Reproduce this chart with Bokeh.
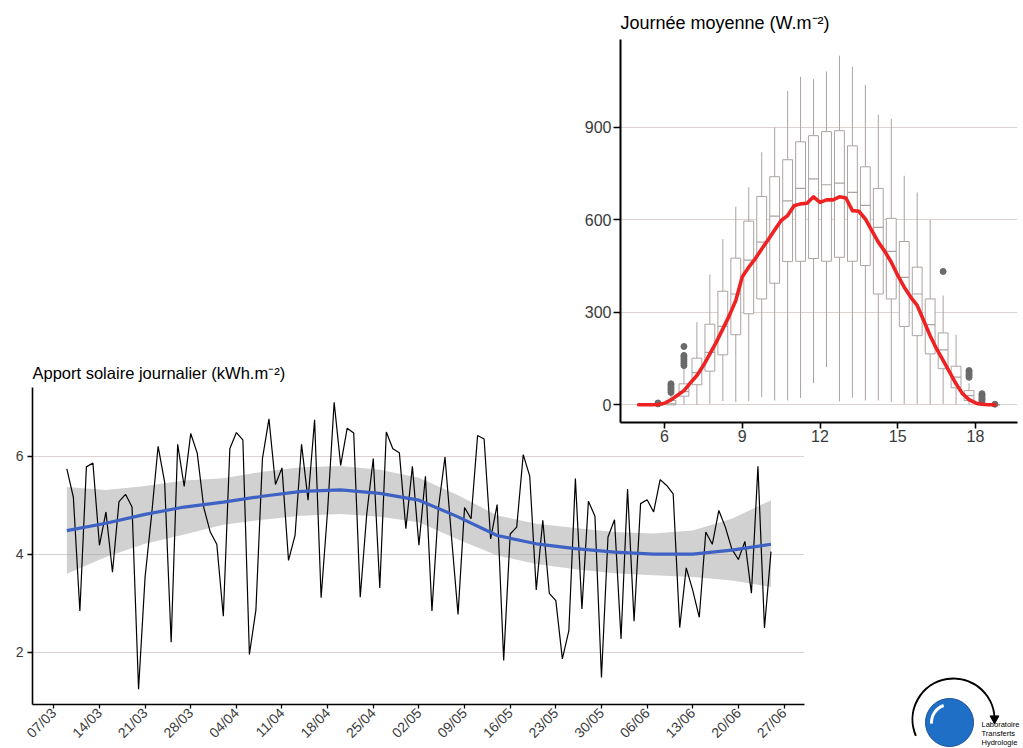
import numpy as np
import pandas as pd
from bokeh.plotting import figure
from bokeh.models import Range1d, FixedTicker, DatetimeTickFormatter, ColumnDataSource
from bokeh.layouts import column, row
from bokeh.embed import file_html
from bokeh.resources import INLINE
from bokeh.core.properties import value

FONT = "Liberation Sans"
TICK_COLOR = "#3a3a3a"
GRID_COLOR = "#d9d2ce"
BOX_COLOR = "#aba3a1"

# ---------------- daily solar input (kWh.m-2) ----------------
first_day = "2015-03-09"
daily_kwh = [
    5.74, 5.16, 2.84, 5.78, 5.86, 4.18, 4.86, 3.63, 5.07, 5.22,
    4.96, 1.24, 3.53, 4.80, 6.20, 5.47, 2.20, 6.24, 5.38, 6.46,
    6.06, 4.95, 4.45, 4.20, 2.73, 6.15, 6.48, 6.33, 1.95, 2.86,
    5.95, 6.76, 5.42, 5.76, 3.87, 4.38, 6.24, 5.10, 6.74, 3.11,
    4.90, 7.10, 5.81, 6.57, 6.47, 3.12, 4.82, 5.95, 3.31, 6.49,
    6.15, 6.07, 4.52, 5.79, 4.18, 5.59, 2.84, 4.95, 5.98, 4.35,
    2.77, 4.95, 4.72, 6.42, 6.35, 4.31, 5.01, 1.83, 4.41, 4.55,
    6.03, 5.59, 3.27, 4.69, 3.20, 3.05, 1.86, 2.44, 5.54, 2.88,
    5.08, 4.77, 1.48, 4.35, 4.70, 2.27, 5.33, 2.63, 5.03, 5.11,
    4.86, 5.52, 5.40, 5.23, 2.50, 3.72, 3.26, 2.71, 4.45, 4.20,
    4.89, 4.55, 4.10, 3.89, 4.26, 3.20, 5.79, 2.49, 4.05,
]
# loess smooth (fit and confidence band) read at some days
smooth_day_index = [0, 6, 12, 18, 24, 30, 36, 42, 48, 54, 60, 66, 72, 78, 84, 90, 96, 102, 108]
smooth_fit = [4.48, 4.63, 4.81, 4.96, 5.06, 5.18, 5.28, 5.31, 5.24, 5.10,
              4.76, 4.38, 4.21, 4.11, 4.04, 4.00, 4.00, 4.08, 4.20]
smooth_low = [3.60, 3.94, 4.21, 4.40, 4.60, 4.70, 4.78, 4.82, 4.76, 4.65,
              4.30, 3.97, 3.80, 3.69, 3.61, 3.57, 3.53, 3.46, 3.33]
smooth_high = [5.37, 5.31, 5.39, 5.50, 5.55, 5.68, 5.77, 5.80, 5.72, 5.56,
               5.20, 4.79, 4.62, 4.53, 4.45, 4.42, 4.48, 4.72, 5.10]
date_tick_labels = ["07/03", "14/03", "21/03", "28/03", "04/04", "11/04", "18/04",
                    "25/04", "02/05", "09/05", "16/05", "23/05", "30/05", "06/06",
                    "13/06", "20/06", "27/06"]
daily_y_ticks = [2, 4, 6]
tick_year = "2015"

# ---------------- mean day (W.m-2) ----------------
box_hours = [5.75, 6.25, 6.75, 7.25, 7.75, 8.25, 8.75, 9.25, 9.75, 10.25, 10.75,
             11.25, 11.75, 12.25, 12.75, 13.25, 13.75, 14.25, 14.75, 15.25,
             15.75, 16.25, 16.75, 17.25, 17.75, 18.25, 18.75]
box_low_whisker = [0, 0, 0, 0, 3, 12, 9, 12, 25, 14, 14, 22, 70, 122, 11, 23, 14,
                   14, 9, 3, 3, 0, 3, 0, 0, 0, 0]
box_q1 = [0, 0, 28, 65, 109, 162, 227, 295, 343, 394, 464, 465, 474, 465, 478,
          465, 451, 359, 343, 254, 224, 165, 117, 55, 14, 0, 0]
box_median = [0, 3, 43, 104, 170, 254, 359, 469, 527, 611, 661, 701, 732, 713,
              718, 688, 646, 575, 497, 413, 359, 260, 178, 90, 30, 0, 0]
box_q3 = [0, 14, 68, 151, 261, 368, 475, 595, 675, 739, 794, 852, 872, 885, 888,
          839, 771, 701, 604, 529, 446, 343, 233, 125, 46, 3, 0]
box_high_whisker = [0, 34, 116, 268, 422, 537, 642, 705, 818, 899, 1017, 1063,
                    1055, 1080, 1131, 1095, 1036, 940, 926, 742, 688, 599, 354,
                    227, 70, 7, 0]
outlier_hours = [5.75, 5.75,
                 6.25, 6.25, 6.25, 6.25, 6.25, 6.25,
                 6.75, 6.75, 6.75, 6.75, 6.75, 6.75, 6.75,
                 16.75,
                 17.75, 17.75, 17.75, 17.75, 17.75,
                 18.25, 18.25, 18.25, 18.25, 18.25, 18.25,
                 18.75]
outlier_values = [3, 6,
                  40, 46, 52, 58, 64, 68,
                  127, 134, 141, 148, 155, 160, 189,
                  432,
                  89, 95, 100, 106, 111,
                  13, 18, 22, 27, 32, 36,
                  2]
mean_hours = [5.0, 5.25, 5.5, 5.75, 6.0, 6.25, 6.5, 6.75, 7.0, 7.25, 7.5, 7.75,
              8.0, 8.25, 8.5, 8.75, 9.0, 9.25, 9.5, 9.75, 10.0, 10.25, 10.5, 10.75,
              11.0, 11.25, 11.5, 11.75, 12.0, 12.25, 12.5, 12.75, 13.0, 13.25,
              13.5, 13.75, 14.0, 14.25, 14.5, 14.75, 15.0, 15.25, 15.5, 15.75,
              16.0, 16.25, 16.5, 16.75, 17.0, 17.25, 17.5, 17.75, 18.0, 18.25,
              18.5, 18.75]
mean_wm2 = [0, 0, 0, 1, 5, 16, 31, 46, 71, 95, 127, 165,
            203, 246, 289, 338, 415, 446, 473, 505, 535, 566, 597, 613,
            645, 651, 653, 674, 656, 664, 664, 674, 670, 629,
            627, 602, 564, 527, 497, 462, 419, 381, 349, 322,
            273, 224, 181, 144, 106, 68, 36, 17, 6, 2,
            0, 0]
hour_ticks = [6, 9, 12, 15, 18]
wm2_ticks = [0, 300, 600, 900]
box_width = 0.38

# ---------------- logo (decoration) ----------------
logo_lines = ["Laboratoire", "Transferts", "Hydrologie"]


def style_axes(p, tick_size, tick_out_x, tick_out_y, axis_width, standoff_x, standoff_y):
    for ax in (p.xaxis[0], p.yaxis[0]):
        ax.axis_line_color = "black"
        ax.axis_line_width = axis_width
        ax.major_tick_line_color = "black"
        ax.major_tick_line_width = axis_width * 0.8
        ax.major_tick_in = 0
        ax.minor_tick_in = 0
        ax.minor_tick_out = 0
        ax.major_label_text_font = FONT
        ax.major_label_text_color = TICK_COLOR
    p.xaxis[0].major_tick_out = tick_out_x
    p.yaxis[0].major_tick_out = tick_out_y
    p.xaxis[0].major_label_standoff = standoff_x
    p.yaxis[0].major_label_standoff = standoff_y
    p.yaxis[0].major_label_text_font_size = tick_size
    p.xgrid.visible = False
    p.ygrid.grid_line_color = GRID_COLOR
    p.ygrid.grid_line_width = 1
    p.outline_line_color = None
    p.title.text_font = FONT
    p.title.text_font_style = "normal"
    p.title.text_color = "black"
    p.title.offset = 0


# ======== inset: mean day ========
inset = figure(frame_width=397, frame_height=383,
               min_border_left=620, min_border_right=6,
               min_border_top=39, min_border_bottom=26,
               x_range=Range1d(4.302, 19.62), y_range=Range1d(-57.3, 1183.5),
               title="Journée moyenne (W.m⁻²)",
               output_backend="svg", toolbar_location=None)
style_axes(inset, "16px", 6, 7, 2.0, 1, 2)
inset.xaxis[0].major_label_text_font_size = "16px"
inset.title.text_font_size = "18px"
inset.title.standoff = 14
inset.xaxis[0].ticker = FixedTicker(ticks=hour_ticks)
inset.yaxis[0].ticker = FixedTicker(ticks=wm2_ticks)
inset.border_fill_color = None
inset.background_fill_color = None

bsrc = ColumnDataSource(dict(
    h=box_hours, lw=box_low_whisker, q1=box_q1, med=box_median, q3=box_q3,
    hw=box_high_whisker,
    h0=[h - box_width / 2 for h in box_hours],
    h1=[h + box_width / 2 for h in box_hours],
))
inset.segment(x0="h", y0="q3", x1="h", y1="hw", source=bsrc, line_color=BOX_COLOR, line_width=1)
inset.segment(x0="h", y0="lw", x1="h", y1="q1", source=bsrc, line_color=BOX_COLOR, line_width=1)
inset.vbar(x="h", width=box_width, bottom="q1", top="q3", source=bsrc,
           fill_color="white", line_color=BOX_COLOR, line_width=1)
inset.segment(x0="h0", y0="med", x1="h1", y1="med", source=bsrc, line_color=BOX_COLOR, line_width=1.2)
inset.scatter(outlier_hours, outlier_values, size=6, color="#6a6a6a")
inset.line(mean_hours, mean_wm2, line_color="#ee2222", line_width=3.6,
           line_join="round", line_cap="round")

# ======== main: daily solar input ========
day_dates = pd.date_range(first_day, periods=len(daily_kwh), freq="D")
smooth_dates = day_dates[smooth_day_index]
tick_dates = pd.to_datetime([t + "/" + tick_year for t in date_tick_labels], format="%d/%m/%Y")
tick_ms = [t.timestamp() * 1000.0 for t in tick_dates]

x0 = tick_dates[0] - pd.Timedelta(days=3.267)
x1 = tick_dates[0] + pd.Timedelta(days=115.14)

main = figure(x_axis_type="datetime", frame_width=772, frame_height=317,
              min_border_left=32, min_border_right=4,
              min_border_top=31, min_border_bottom=44,
              x_range=Range1d(x0, x1), y_range=Range1d(0.93, 7.40),
              title="Apport solaire journalier (kWh.m⁻²)",
              output_backend="svg", toolbar_location=None)
style_axes(main, "14px", 4, 5, 1.6, 2, 4)
main.title.text_font_size = "16.5px"
main.title.standoff = 11
main.border_fill_color = None
main.background_fill_color = None
main.xaxis[0].ticker = FixedTicker(ticks=tick_ms)
fmt = "%d/%m"
main.xaxis[0].formatter = DatetimeTickFormatter(
    microseconds=fmt, milliseconds=fmt, seconds=fmt, minsec=fmt, minutes=fmt,
    hourmin=fmt, hours=fmt, days=fmt, months=fmt, years=fmt)
main.xaxis[0].major_label_orientation = np.pi / 4
main.xaxis[0].major_label_text_font_size = "14px"
main.yaxis[0].ticker = FixedTicker(ticks=daily_y_ticks)

main.varea(x=smooth_dates, y1=smooth_low, y2=smooth_high, fill_color="#999999", fill_alpha=0.45)
main.line(day_dates, daily_kwh, line_color="black", line_width=1.2)
main.line(smooth_dates, smooth_fit, line_color="#3d62c4", line_width=3.2, line_join="round")

# ======== logo (bottom-right decoration) ========
logo = figure(width=215, height=74, x_range=Range1d(0, 215), y_range=Range1d(0, 74),
              min_border=0, x_axis_location=None, y_axis_location=None, title=None,
              output_backend="svg", toolbar_location=None)
logo.grid.visible = False
logo.outline_line_color = None
logo.border_fill_color = None
logo.background_fill_color = None
logo.arc(x=[145], y=[30], radius=41, start_angle=3.55, end_angle=-0.09,
         direction="clock", line_color="black", line_width=2)
logo.scatter(x=[186], y=[31], marker="triangle", angle=np.pi, size=9, color="black")
logo.circle(x=[141], y=[27], radius=24, fill_color="#1f6fc6", line_color="#1a4f96", line_width=1)
logo.arc(x=[141], y=[27], radius=18, start_angle=1.9, end_angle=3.2,
         line_color="white", line_width=3)
logo.text(x=[173, 173, 173], y=[25, 16, 7], text=logo_lines,
          text_font=value(FONT), text_font_size="7.5px", text_color="black",
          text_baseline="alphabetic")

layout = column(inset,
                row(main, margin=(-92, 0, 0, 0)),
                row(logo, margin=(-74, 0, 0, 808)))

open("out.html", "w").write(file_html(layout, INLINE))
